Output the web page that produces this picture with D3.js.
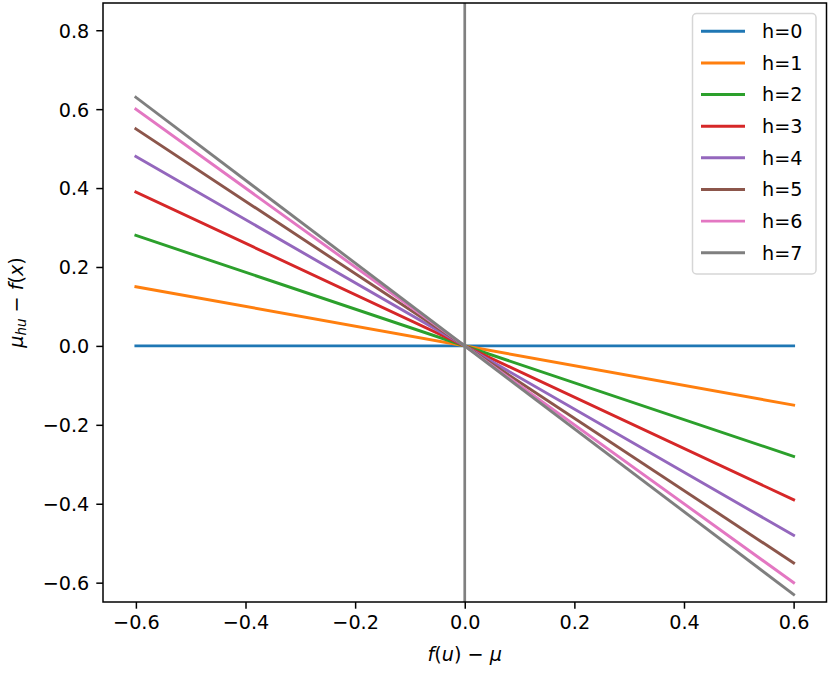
<!DOCTYPE html>
<meta charset="utf-8">
<script src="https://d3js.org/d3.v7.min.js"></script>
<style>
body { margin: 0; background: #fff; }
text { font-family: "DejaVu Sans"; fill: #000; }
</style>
<div id="chart"></div>
<script>

// x positions of the two end points of every line
var xs = [-0.6, 0.6];
var labels = ["h=0", "h=1", "h=2", "h=3", "h=4", "h=5", "h=6", "h=7"];
// y value of each series at x = -0.6 and x = 0.6
var h0 = [0.00, 0.00];
var h1 = [0.15, -0.15];
var h2 = [0.28, -0.28];
var h3 = [0.39, -0.39];
var h4 = [0.48, -0.48];
var h5 = [0.55, -0.55];
var h6 = [0.60, -0.60];
var h7 = [0.63, -0.63];
var series = [h0, h1, h2, h3, h4, h5, h6, h7];
var xTicks = [-0.6, -0.4, -0.2, 0.0, 0.2, 0.4, 0.6];
var yTicks = [-0.6, -0.4, -0.2, 0.0, 0.2, 0.4, 0.6, 0.8];
var colors = ["#1f77b4", "#ff7f0e", "#2ca02c", "#d62728", "#9467bd", "#8c564b", "#e377c2", "#7f7f7f"];

var W = 830, H = 674;
var plot = {left: 103, right: 826.5, top: 3, bottom: 602};

var svg = d3.select("#chart").append("svg")
  .attr("width", W)
  .attr("height", H);

var x = d3.scaleLinear().domain([-0.66, 0.66]).range([plot.left, plot.right]);
var y = d3.scaleLinear().domain([-0.649, 0.869]).range([plot.bottom, plot.top]);

var fmt = function(d) { return d3.format(".1f")(d).replace("-", "\u2212"); };

// lines
var line = d3.line()
  .x(function(d, i) { return x(xs[i]); })
  .y(function(d) { return y(d); });

svg.append("g")
  .selectAll("path")
  .data(series)
  .enter()
  .append("path")
    .attr("d", line)
    .attr("fill", "none")
    .attr("stroke", function(d, i) { return colors[i]; })
    .attr("stroke-width", 2.9)
    .attr("stroke-linecap", "square");

// vertical line at 0
svg.append("line")
  .attr("x1", x(0)).attr("x2", x(0))
  .attr("y1", plot.top).attr("y2", plot.bottom)
  .attr("stroke", "#808080")
  .attr("stroke-width", 2.7);

// axes
var xAxis = d3.axisBottom(x).tickValues(xTicks).tickFormat(fmt).tickSize(6.7).tickPadding(6);
var gx = svg.append("g")
  .attr("transform", "translate(0," + plot.bottom + ")")
  .call(xAxis);
gx.select(".domain").remove();
gx.selectAll("line").attr("stroke", "#000").attr("stroke-width", 1.5);
gx.selectAll("text").style("font-size", "19.2px").attr("dy", "0.72em");

var yAxis = d3.axisLeft(y).tickValues(yTicks).tickFormat(fmt).tickSize(6.7).tickPadding(7);
var gy = svg.append("g")
  .attr("transform", "translate(" + plot.left + ",0)")
  .call(yAxis);
gy.select(".domain").remove();
gy.selectAll("line").attr("stroke", "#000").attr("stroke-width", 1.5);
gy.selectAll("text").style("font-size", "19.2px").attr("dy", "0.36em");

// frame
svg.append("rect")
  .attr("x", plot.left).attr("y", plot.top)
  .attr("width", plot.right - plot.left).attr("height", plot.bottom - plot.top)
  .attr("fill", "none")
  .attr("stroke", "#000")
  .attr("stroke-width", 1.5);

// axis labels
var xl = svg.append("text")
  .attr("x", (plot.left + plot.right) / 2)
  .attr("y", 661)
  .attr("text-anchor", "middle")
  .style("font-size", "19.2px");
xl.append("tspan").style("font-style", "italic").text("f");
xl.append("tspan").text("(");
xl.append("tspan").style("font-style", "italic").text("u");
xl.append("tspan").text(") \u2212 ");
xl.append("tspan").style("font-style", "italic").text("\u03bc");

var yl = svg.append("text")
  .attr("transform", "translate(23," + ((plot.top + plot.bottom) / 2) + ") rotate(-90)")
  .attr("text-anchor", "middle")
  .style("font-size", "19.2px");
yl.append("tspan").style("font-style", "italic").text("\u03bc");
yl.append("tspan").style("font-style", "italic").style("font-size", "13.4px").attr("dy", 3).text("hu");
yl.append("tspan").attr("dy", -3).text(" \u2212 ");
yl.append("tspan").style("font-style", "italic").text("f");
yl.append("tspan").text("(");
yl.append("tspan").style("font-style", "italic").text("x");
yl.append("tspan").text(")");

// legend
var lg = svg.append("g");
lg.append("rect")
  .attr("x", 692.5).attr("y", 13.5)
  .attr("width", 123.5).attr("height", 260.5)
  .attr("rx", 4)
  .attr("fill", "#fff")
  .attr("fill-opacity", 0.8)
  .attr("stroke", "#d6d6d6")
  .attr("stroke-width", 1.5);

var rows = lg.selectAll("g.row")
  .data(labels)
  .enter()
  .append("g")
    .attr("class", "row")
    .attr("transform", function(d, i) { return "translate(0," + (31.3 + i * 31.63) + ")"; });

rows.append("line")
  .attr("x1", 701).attr("x2", 745)
  .attr("stroke", function(d, i) { return colors[i]; })
  .attr("stroke-width", 2.9);

rows.append("text")
  .attr("x", 762)
  .attr("dy", "0.36em")
  .style("font-size", "19.2px")
  .text(function(d) { return d; });

</script>
